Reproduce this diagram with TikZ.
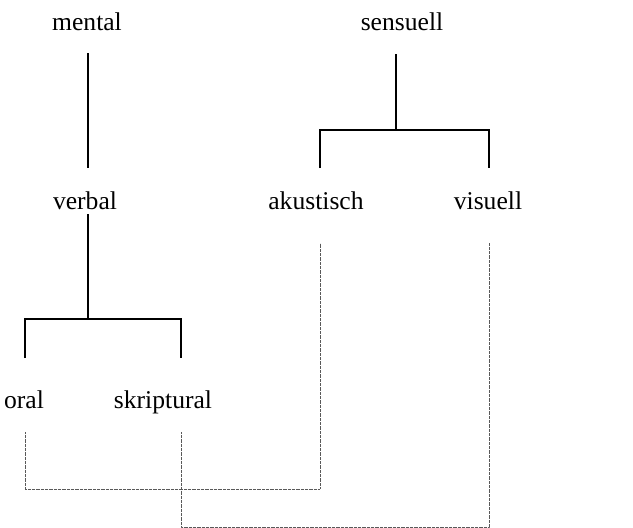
\documentclass[tikz,border=0pt]{standalone}
\usepackage{fontspec}
\setmainfont{Liberation Serif}
\begin{document}
\begin{tikzpicture}[x=1pt,y=-1pt,
  lbl/.style={anchor=base,inner sep=0pt,font=\fontsize{25.6}{28}\selectfont},
  solidline/.style={line width=1.5pt},
  dotline/.style={line width=0.8pt,gray!70!black,dash pattern=on 0.8pt off 0.5pt}]
\useasboundingbox (0,0) rectangle (633,528);
% labels
\node[lbl] (mental) at (87,30) {mental};
\node[lbl] (sensuell) at (402,30) {sensuell};
\node[lbl] (verbal) at (85,209) {verbal};
\node[lbl] (akustisch) at (316,209) {akustisch};
\node[lbl] (visuell) at (488,209) {visuell};
\node[lbl] (oral) at (24,408) {oral};
\node[lbl] (skriptural) at (163,408) {skriptural};
% coordinates
\coordinate (m1) at (88,53);
\coordinate (m2) at (88,168);
\coordinate (s1) at (396,54);
\coordinate (s2) at (396,130);
\coordinate (sa) at (320,130);
\coordinate (sv) at (489,130);
\coordinate (sa2) at (320,168);
\coordinate (sv2) at (489,168);
\coordinate (v1) at (88,214);
\coordinate (v2) at (88,319);
\coordinate (vo) at (25,319);
\coordinate (vs) at (181,319);
\coordinate (vo2) at (25,358);
\coordinate (vs2) at (181,358);
\coordinate (ak1) at (320,243);
\coordinate (vi1) at (489,243);
\coordinate (or1) at (25,432);
\coordinate (sk1) at (181,432);
\coordinate (ba) at (25,489);
\coordinate (bb) at (320,489);
\coordinate (ca) at (181,527);
\coordinate (cb) at (489,527);
% solid tree lines
\draw[solidline] (m1) -- (m2);
\draw[solidline] (s1) -- (s2);
\draw[solidline,line join=miter] (sa2) -- (sa) -- (sv) -- (sv2);
\draw[solidline] (v1) -- (v2);
\draw[solidline,line join=miter] (vo2) -- (vo) -- (vs) -- (vs2);
% dotted links
\draw[dotline] (or1) -- (ba) -- (bb) -- (ak1);
\draw[dotline] (sk1) -- (ca) -- (cb) -- (vi1);
\end{tikzpicture}
\end{document}
